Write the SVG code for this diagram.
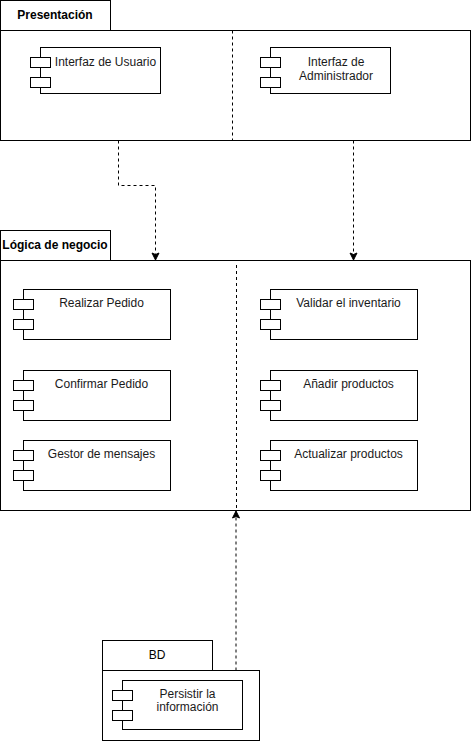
<svg xmlns="http://www.w3.org/2000/svg" width="471" height="741" viewBox="0 0 471 741">
  <defs>
    <marker id="arrow" markerUnits="userSpaceOnUse" markerWidth="10" markerHeight="10" refX="0" refY="0" viewBox="-8 -5 10 10" orient="auto">
      <path d="M0,0 L-7,-3.5 L-5.5,0 L-7,3.5 Z" fill="#000" stroke="#000" stroke-width="1"/>
    </marker>
  </defs>
  <style>
    .frame { fill: #fff; stroke: #000; stroke-width: 1; }
    .comp { fill: #fff; stroke: #000; stroke-width: 1; }
    .divider { stroke: #000; stroke-width: 1; stroke-dasharray: 3 3; fill: none; }
    .conn { stroke: #000; stroke-width: 1; stroke-dasharray: 3 3; fill: none; marker-end: url(#arrow); }
    .title { font-family: "Liberation Sans", Arial, sans-serif; font-size: 12px; font-weight: bold; fill: #000; text-anchor: middle; }
    .label { font-family: "Liberation Sans", Arial, sans-serif; font-size: 12px; fill: #1a1a1a; text-anchor: middle; }
  </style>

  <g id="presentacion">
    <rect class="frame" x="0.5" y="0.5" width="110" height="30"/>
    <text class="title" x="55" y="18.5">Presentación</text>
    <rect class="frame" x="0.5" y="30.5" width="470" height="110"/>
    <line class="divider" x1="232.5" y1="30.5" x2="232.5" y2="140.5"/>
  </g>

  <g id="interfaz-usuario">
    <rect class="comp" x="40.5" y="47.5" width="120" height="46"/>
    <rect class="comp" x="30.5" y="57.5" width="20" height="10"/>
    <rect class="comp" x="30.5" y="77.5" width="20" height="10"/>
    <text class="label" x="105.5" y="66">Interfaz de Usuario</text>
  </g>

  <g id="interfaz-administrador">
    <rect class="comp" x="270.5" y="47.5" width="120" height="46"/>
    <rect class="comp" x="260.5" y="57.5" width="20" height="10"/>
    <rect class="comp" x="260.5" y="77.5" width="20" height="10"/>
    <text class="label" x="336" y="66">Interfaz de</text>
    <text class="label" x="336" y="80">Administrador</text>
  </g>

  <g id="logica-negocio">
    <rect class="frame" x="0.5" y="230.5" width="110" height="30"/>
    <text class="title" x="55" y="249">Lógica de negocio</text>
    <rect class="frame" x="0.5" y="260.5" width="470" height="250"/>
    <line class="divider" x1="236.5" y1="265" x2="236.5" y2="510.5"/>
  </g>

  <g id="realizar-pedido">
    <rect class="comp" x="23.5" y="289.5" width="147" height="50"/>
    <rect class="comp" x="13.5" y="299.5" width="20" height="10"/>
    <rect class="comp" x="13.5" y="319.5" width="20" height="10"/>
    <text class="label" x="101.5" y="307">Realizar Pedido</text>
  </g>

  <g id="confirmar-pedido">
    <rect class="comp" x="23.5" y="370.5" width="147" height="50"/>
    <rect class="comp" x="13.5" y="380.5" width="20" height="10"/>
    <rect class="comp" x="13.5" y="400.5" width="20" height="10"/>
    <text class="label" x="101.5" y="388">Confirmar Pedido</text>
  </g>

  <g id="gestor-mensajes">
    <rect class="comp" x="23.5" y="440.5" width="147" height="50"/>
    <rect class="comp" x="13.5" y="450.5" width="20" height="10"/>
    <rect class="comp" x="13.5" y="470.5" width="20" height="10"/>
    <text class="label" x="101.5" y="458">Gestor de mensajes</text>
  </g>

  <g id="validar-inventario">
    <rect class="comp" x="270.5" y="289.5" width="147" height="50"/>
    <rect class="comp" x="260.5" y="299.5" width="20" height="10"/>
    <rect class="comp" x="260.5" y="319.5" width="20" height="10"/>
    <text class="label" x="348.5" y="307">Validar el inventario</text>
  </g>

  <g id="anadir-productos">
    <rect class="comp" x="270.5" y="370.5" width="147" height="50"/>
    <rect class="comp" x="260.5" y="380.5" width="20" height="10"/>
    <rect class="comp" x="260.5" y="400.5" width="20" height="10"/>
    <text class="label" x="348.5" y="388">Añadir productos</text>
  </g>

  <g id="actualizar-productos">
    <rect class="comp" x="270.5" y="440.5" width="147" height="50"/>
    <rect class="comp" x="260.5" y="450.5" width="20" height="10"/>
    <rect class="comp" x="260.5" y="470.5" width="20" height="10"/>
    <text class="label" x="348.5" y="458">Actualizar productos</text>
  </g>

  <g id="bd">
    <rect class="frame" x="102.5" y="640.5" width="110" height="30"/>
    <text class="label" x="157" y="658.5" style="fill:#000">BD</text>
    <rect class="frame" x="102.5" y="670.5" width="157" height="70"/>
  </g>

  <g id="persistir-informacion">
    <rect class="comp" x="122.5" y="680.5" width="120" height="49"/>
    <rect class="comp" x="112.5" y="690.5" width="20" height="10"/>
    <rect class="comp" x="112.5" y="710.5" width="20" height="10"/>
    <text class="label" x="187.5" y="697.5">Persistir la</text>
    <text class="label" x="187.5" y="711">información</text>
  </g>

  <g id="connectors">
    <path class="conn" d="M118.5,140.5 L118.5,185.5 L155.5,185.5 L155.5,260"/>
    <path class="conn" d="M353.5,140.5 L353.5,260"/>
    <path class="conn" d="M236,670.5 L236,511"/>
  </g>
</svg>
